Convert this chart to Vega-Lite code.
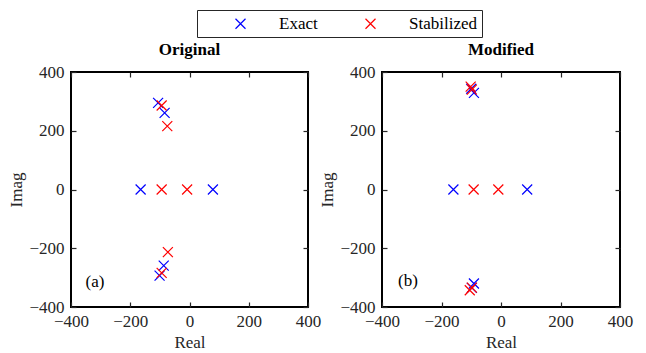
{
  "$schema": "https://vega.github.io/schema/vega-lite/v6.json",
  "background": "white",
  "padding": {"left": 6, "top": 9, "right": 5, "bottom": 5},
  "config": {
    "font": "Liberation Serif",
    "view": {"stroke": "black", "strokeWidth": 2},
    "title": {"font": "Liberation Serif", "fontSize": 17, "fontWeight": "bold", "color": "black", "offset": 4},
    "legend": {
      "labelFont": "Liberation Serif", "labelFontSize": 17, "labelColor": "black",
      "strokeColor": "#262626", "padding": 5, "symbolStrokeWidth": 1.2, "symbolSize": 100,
      "symbolType": "M-1,-1L1,1M-1,1L1,-1", "labelOffset": 30, "symbolOffset": 30, "columnPadding": 14
    }
  },
  "datasets": {
    "poles": [
      {"panel": "Original", "type": "Exact", "re": -106, "im": 295},
      {"panel": "Original", "type": "Exact", "re": -84, "im": 261},
      {"panel": "Original", "type": "Exact", "re": -165, "im": 0},
      {"panel": "Original", "type": "Exact", "re": 79, "im": 0},
      {"panel": "Original", "type": "Exact", "re": -87, "im": -259},
      {"panel": "Original", "type": "Exact", "re": -101, "im": -293},
      {"panel": "Original", "type": "Stabilized", "re": -94, "im": 286},
      {"panel": "Original", "type": "Stabilized", "re": -75, "im": 216},
      {"panel": "Original", "type": "Stabilized", "re": -94, "im": 0},
      {"panel": "Original", "type": "Stabilized", "re": -8, "im": 0},
      {"panel": "Original", "type": "Stabilized", "re": -73, "im": -213},
      {"panel": "Original", "type": "Stabilized", "re": -94, "im": -284},
      {"panel": "Modified", "type": "Exact", "re": -100, "im": 343},
      {"panel": "Modified", "type": "Exact", "re": -91, "im": 329},
      {"panel": "Modified", "type": "Exact", "re": -160, "im": 0},
      {"panel": "Modified", "type": "Exact", "re": 88, "im": 0},
      {"panel": "Modified", "type": "Exact", "re": -91, "im": -320},
      {"panel": "Modified", "type": "Exact", "re": -98, "im": -335},
      {"panel": "Modified", "type": "Stabilized", "re": -102, "im": 350},
      {"panel": "Modified", "type": "Stabilized", "re": -98, "im": 340},
      {"panel": "Modified", "type": "Stabilized", "re": -92, "im": 0},
      {"panel": "Modified", "type": "Stabilized", "re": -9, "im": 0},
      {"panel": "Modified", "type": "Stabilized", "re": -105, "im": -343},
      {"panel": "Modified", "type": "Stabilized", "re": -98, "im": -334}
    ],
    "tags": [
      {"panel": "Original", "tag": "(a)", "re": -319, "im": -315},
      {"panel": "Modified", "tag": "(b)", "re": -313, "im": -312}
    ]
  },
  "spacing": -5,
  "hconcat": [
    {
      "title": "Original",
      "width": 237, "height": 235,
      "resolve": {"axis": {"x": "independent", "y": "independent"}},
      "layer": [
        {
          "mark": {"type": "rule", "color": "#b5b5b5", "strokeDash": [1.5, 3], "strokeWidth": 1.2},
          "encoding": {"x": {"datum": 0, "type": "quantitative", "scale": {"domain": [-400, 400]}, "axis": {"orient": "top", "labels": false, "title": null, "domain": false, "grid": false, "ticks": true, "tickSize": 5, "tickColor": "#262626", "tickWidth": 1.2, "offset": -5, "values": [-400, -200, 0, 200, 400]}}}
        },
        {
          "mark": {"type": "rule", "color": "#b5b5b5", "strokeDash": [1.5, 3], "strokeWidth": 1.2},
          "encoding": {"y": {"datum": 0, "type": "quantitative", "scale": {"domain": [-400, 400]}, "axis": {"orient": "right", "labels": false, "title": null, "domain": false, "grid": false, "ticks": true, "tickSize": 5, "tickColor": "#262626", "tickWidth": 1.2, "offset": -5, "values": [-400, -200, 0, 200, 400]}}}
        },
        {
          "data": {"name": "poles"},
          "transform": [{"filter": "datum.panel === 'Original'"}],
          "mark": {"type": "point", "shape": "M-1,-1L1,1M-1,1L1,-1", "filled": false, "size": 100, "strokeWidth": 1.2, "opacity": 1},
          "encoding": {
            "x": {"field": "re", "type": "quantitative", "scale": {"domain": [-400, 400]}, "axis": {"title": "Real", "titlePadding": 5, "offset": -5, "domain": false, "grid": false, "ticks": true, "tickSize": 5, "tickColor": "#262626", "tickWidth": 1.2, "values": [-400, -200, 0, 200, 400], "format": "d", "labelPadding": 6, "labelFlush": false, "labelOverlap": false, "labelFont": "Liberation Serif", "labelFontSize": 17, "labelColor": "#262626", "titleFont": "Liberation Serif", "titleFontSize": 17, "titleColor": "#262626", "titleFontWeight": "normal"}},
            "y": {"field": "im", "type": "quantitative", "scale": {"domain": [-400, 400]}, "axis": {"title": "Imag", "titlePadding": 3, "offset": -5, "domain": false, "grid": false, "ticks": true, "tickSize": 5, "tickColor": "#262626", "tickWidth": 1.2, "values": [-400, -200, 0, 200, 400], "format": "d", "labelPadding": 7, "labelFlush": false, "labelOverlap": false, "labelFont": "Liberation Serif", "labelFontSize": 17, "labelColor": "#262626", "titleFont": "Liberation Serif", "titleFontSize": 17, "titleColor": "#262626", "titleFontWeight": "normal"}},
            "color": {"field": "type", "type": "nominal", "scale": {"domain": ["Exact", "Stabilized"], "range": ["#0000ff", "#ff0000"]},
              "legend": {"title": null, "orient": "none", "direction": "horizontal", "legendX": 126, "legendY": -62}}
          }
        },
        {
          "data": {"name": "tags"},
          "transform": [{"filter": "datum.panel === 'Original'"}],
          "mark": {"type": "text", "fontSize": 17, "font": "Liberation Serif", "color": "black"},
          "encoding": {
            "x": {"field": "re", "type": "quantitative", "scale": {"domain": [-400, 400]}, "axis": null},
            "y": {"field": "im", "type": "quantitative", "scale": {"domain": [-400, 400]}, "axis": null},
            "text": {"field": "tag"}
          }
        }
      ]
    },
    {
      "title": "Modified",
      "width": 238, "height": 235,
      "resolve": {"axis": {"x": "independent", "y": "independent"}},
      "layer": [
        {
          "mark": {"type": "rule", "color": "#b5b5b5", "strokeDash": [1.5, 3], "strokeWidth": 1.2},
          "encoding": {"x": {"datum": 0, "type": "quantitative", "scale": {"domain": [-400, 400]}, "axis": {"orient": "top", "labels": false, "title": null, "domain": false, "grid": false, "ticks": true, "tickSize": 5, "tickColor": "#262626", "tickWidth": 1.2, "offset": -5, "values": [-400, -200, 0, 200, 400]}}}
        },
        {
          "mark": {"type": "rule", "color": "#b5b5b5", "strokeDash": [1.5, 3], "strokeWidth": 1.2},
          "encoding": {"y": {"datum": 0, "type": "quantitative", "scale": {"domain": [-400, 400]}, "axis": {"orient": "right", "labels": false, "title": null, "domain": false, "grid": false, "ticks": true, "tickSize": 5, "tickColor": "#262626", "tickWidth": 1.2, "offset": -5, "values": [-400, -200, 0, 200, 400]}}}
        },
        {
          "data": {"name": "poles"},
          "transform": [{"filter": "datum.panel === 'Modified'"}],
          "mark": {"type": "point", "shape": "M-1,-1L1,1M-1,1L1,-1", "filled": false, "size": 100, "strokeWidth": 1.2, "opacity": 1},
          "encoding": {
            "x": {"field": "re", "type": "quantitative", "scale": {"domain": [-400, 400]}, "axis": {"title": "Real", "titlePadding": 5, "offset": -5, "domain": false, "grid": false, "ticks": true, "tickSize": 5, "tickColor": "#262626", "tickWidth": 1.2, "values": [-400, -200, 0, 200, 400], "format": "d", "labelPadding": 6, "labelFlush": false, "labelOverlap": false, "labelFont": "Liberation Serif", "labelFontSize": 17, "labelColor": "#262626", "titleFont": "Liberation Serif", "titleFontSize": 17, "titleColor": "#262626", "titleFontWeight": "normal"}},
            "y": {"field": "im", "type": "quantitative", "scale": {"domain": [-400, 400]}, "axis": {"title": "Imag", "titlePadding": 3, "offset": -5, "domain": false, "grid": false, "ticks": true, "tickSize": 5, "tickColor": "#262626", "tickWidth": 1.2, "values": [-400, -200, 0, 200, 400], "format": "d", "labelPadding": 7, "labelFlush": false, "labelOverlap": false, "labelFont": "Liberation Serif", "labelFontSize": 17, "labelColor": "#262626", "titleFont": "Liberation Serif", "titleFontSize": 17, "titleColor": "#262626", "titleFontWeight": "normal"}},
            "color": {"field": "type", "type": "nominal", "scale": {"domain": ["Exact", "Stabilized"], "range": ["#0000ff", "#ff0000"]},
              "legend": {"title": null, "orient": "none", "direction": "horizontal", "legendX": 126, "legendY": -62}}
          }
        },
        {
          "data": {"name": "tags"},
          "transform": [{"filter": "datum.panel === 'Modified'"}],
          "mark": {"type": "text", "fontSize": 17, "font": "Liberation Serif", "color": "black"},
          "encoding": {
            "x": {"field": "re", "type": "quantitative", "scale": {"domain": [-400, 400]}, "axis": null},
            "y": {"field": "im", "type": "quantitative", "scale": {"domain": [-400, 400]}, "axis": null},
            "text": {"field": "tag"}
          }
        }
      ]
    }
  ]
}
